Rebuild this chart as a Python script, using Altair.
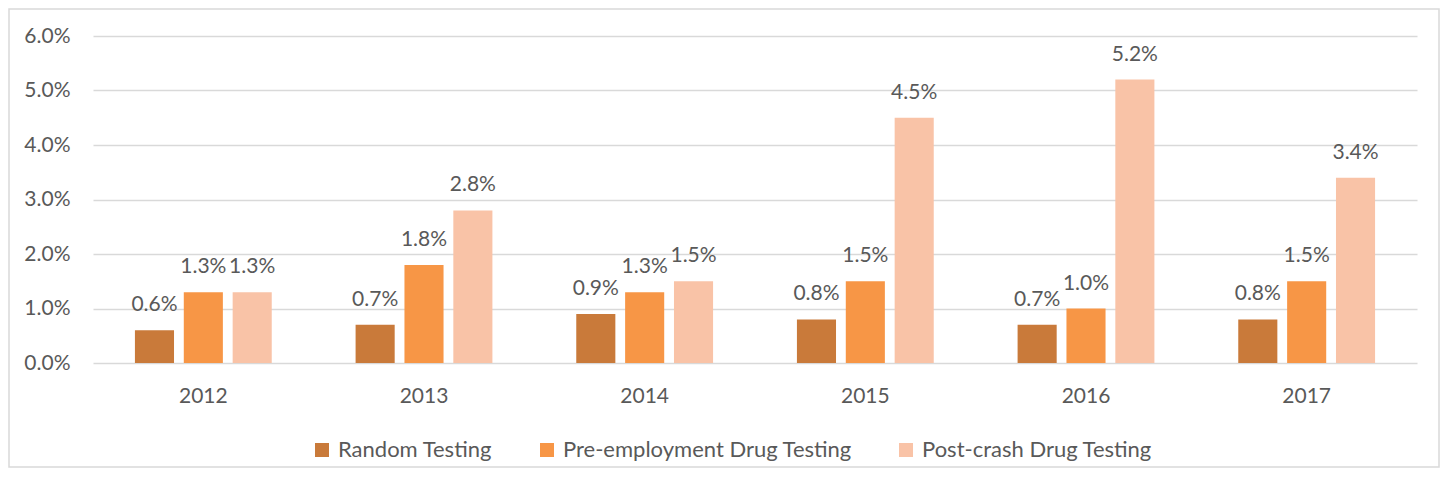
import altair as alt
import pandas as pd

years = ["2012", "2013", "2014", "2015", "2016", "2017"]
series = ["Random Testing", "Pre-employment Drug Testing", "Post-crash Drug Testing"]
random_vals = [0.6, 0.7, 0.9, 0.8, 0.7, 0.8]
pre_vals = [1.3, 1.8, 1.3, 1.5, 1.0, 1.5]
post_vals = [1.3, 2.8, 1.5, 4.5, 5.2, 3.4]
colors = ["#C97A3A", "#F79646", "#F9C3A7"]
y_ticks = [0, 0.01, 0.02, 0.03, 0.04, 0.05, 0.06]

rows = []
for s, vals in zip(series, [random_vals, pre_vals, post_vals]):
    for yr, v in zip(years, vals):
        rows.append({"year": yr, "series": s, "value": v / 100})
df = pd.DataFrame(rows)

FONT = "Lato"
GRAY = "#595959"
GRID = "#D9D9D9"
FS = 21

x_enc = alt.X(
    "year:N",
    sort=years,
    scale=alt.Scale(paddingInner=0.38, paddingOuter=0.19),
    axis=alt.Axis(title=None, labelAngle=0, ticks=False, domain=False,
                  labelPadding=22, labelFontSize=FS, labelColor=GRAY, labelFont=FONT),
)
xo_enc = alt.XOffset("series:N", sort=series,
                     scale=alt.Scale(paddingInner=0.2, paddingOuter=0))
y_enc = alt.Y(
    "value:Q",
    scale=alt.Scale(domain=[0, 0.06], nice=False),
    axis=alt.Axis(title=None, values=y_ticks, format=".1%", grid=True, gridColor=GRID,
                  gridWidth=1.3, domain=False, ticks=False, labelPadding=23,
                  labelFontSize=FS, labelColor=GRAY, labelFont=FONT),
)

bars = alt.Chart(df).mark_bar().encode(
    x=x_enc,
    xOffset=xo_enc,
    y=y_enc,
    color=alt.Color(
        "series:N",
        sort=series,
        scale=alt.Scale(domain=series, range=colors),
        legend=alt.Legend(orient="none", legendX=218, legendY=403, direction="horizontal",
                          title=None, symbolType="square", symbolSize=196,
                          symbolStrokeWidth=0, labelFontSize=22, labelFont=FONT,
                          labelColor=GRAY, labelOffset=5, columnPadding=43,
                          labelLimit=500),
    ),
)

labels = alt.Chart(df).mark_text(
    baseline="alphabetic", dy=-19, fontSize=FS, font=FONT, color=GRAY
).encode(
    x=x_enc,
    xOffset=xo_enc,
    y=y_enc,
    text=alt.Text("value:Q", format=".1%"),
)

border = alt.Chart(pd.DataFrame({"d": [0]})).mark_rect(
    fill="transparent", stroke=GRID, strokeWidth=1.5
).encode(
    x=alt.value(-84), x2=alt.value(1346), y=alt.value(-27), y2=alt.value(431)
)

chart = alt.layer(border, bars, labels).properties(
    width=1324,
    height=327,
    autosize=alt.AutoSizeParams(type="none"),
    padding={"left": 85, "top": 28, "right": 24, "bottom": 105},
).configure_view(stroke=None)

chart.save("out.html", embed_options={"renderer": "svg", "actions": False})
